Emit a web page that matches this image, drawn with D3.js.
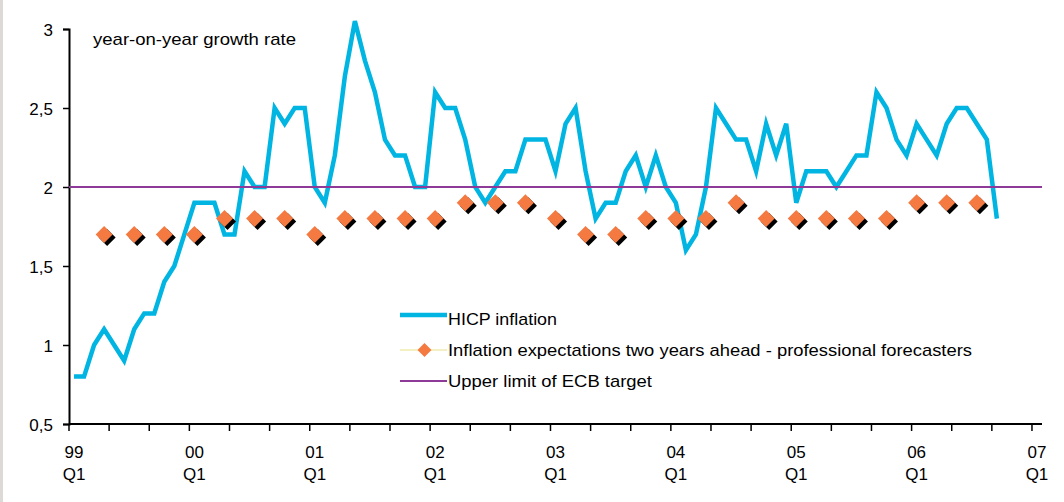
<!DOCTYPE html>
<html>
<head>
<meta charset="utf-8">
<script src="https://cdn.jsdelivr.net/npm/d3@7"></script>
<style>
  html, body { margin: 0; padding: 0; background: #ffffff; }
  svg { display: block; }
  text { font-family: "Liberation Sans", Arial, sans-serif; fill: #000; }
</style>
</head>
<body>
<svg id="chart" width="1064" height="502"></svg>
<script>
// ---------- DATA ----------
const startMonth = new Date(1999, 0, 1);
const endMonth = new Date(2007, 1, 1); // axis covers Jan 1999 .. Jan 2007

// HICP inflation, year-on-year %, monthly from Jan 1999
const hicp = [
  0.8, 0.8, 1.0, 1.1, 1.0, 0.9, 1.1, 1.2, 1.2, 1.4, 1.5, 1.7,   // 1999
  1.9, 1.9, 1.9, 1.7, 1.7, 2.1, 2.0, 2.0, 2.5, 2.4, 2.5, 2.5,   // 2000
  2.0, 1.9, 2.2, 2.7, 3.05, 2.8, 2.6, 2.3, 2.2, 2.2, 2.0, 2.0,  // 2001
  2.6, 2.5, 2.5, 2.3, 2.0, 1.9, 2.0, 2.1, 2.1, 2.3, 2.3, 2.3,   // 2002
  2.1, 2.4, 2.5, 2.1, 1.8, 1.9, 1.9, 2.1, 2.2, 2.0, 2.2, 2.0,   // 2003
  1.9, 1.6, 1.7, 2.0, 2.5, 2.4, 2.3, 2.3, 2.1, 2.4, 2.2, 2.4,   // 2004
  1.9, 2.1, 2.1, 2.1, 2.0, 2.1, 2.2, 2.2, 2.6, 2.5, 2.3, 2.2,   // 2005
  2.4, 2.3, 2.2, 2.4, 2.5, 2.5, 2.4, 2.3, 1.8                   // 2006
];

// Survey of professional forecasters: inflation expectations two years ahead
const spfQuarters = [
  "1999Q2","1999Q3","1999Q4",
  "2000Q1","2000Q2","2000Q3","2000Q4",
  "2001Q1","2001Q2","2001Q3","2001Q4",
  "2002Q1","2002Q2","2002Q3","2002Q4",
  "2003Q1","2003Q2","2003Q3","2003Q4",
  "2004Q1","2004Q2","2004Q3","2004Q4",
  "2005Q1","2005Q2","2005Q3","2005Q4",
  "2006Q1","2006Q2","2006Q3"
];
const spfValues = [
  1.7, 1.7, 1.7,
  1.7, 1.8, 1.8, 1.8,
  1.7, 1.8, 1.8, 1.8,
  1.8, 1.9, 1.9, 1.9,
  1.8, 1.7, 1.7, 1.8,
  1.8, 1.8, 1.9, 1.8,
  1.8, 1.8, 1.8, 1.8,
  1.9, 1.9, 1.9
];

const ecbUpperLimit = 2.0;

const yTicks = [0.5, 1, 1.5, 2, 2.5, 3];
const xYearLabels = ["99", "00", "01", "02", "03", "04", "05", "06", "07"];
const xQuarterLabel = "Q1";

const titleText = "year-on-year growth rate";
const legendLabels = [
  "HICP inflation",
  "Inflation expectations two years ahead - professional forecasters",
  "Upper limit of ECB target"
];

// ---------- STYLE ----------
const colHicp = "#00b5e2";
const colSpf = "#f47a42";
const colEcb = "#8e3a98";
const colLegendSpfLine = "#e8e48a";

// ---------- SCALES ----------
const svg = d3.select("#chart");
const fmtKey = d3.timeFormat("%Y-%m");
const months = d3.timeMonth.range(startMonth, endMonth);
const monthKeys = months.map(fmtKey);

const x = d3.scaleBand().domain(monthKeys).range([69, 1042]).padding(0);
const xMid = k => x(k) + x.bandwidth() / 2;
const y = d3.scaleLinear().domain([0.5, 3]).range([424, 29]);

// left grey frame strip
svg.append("rect").attr("x", 0).attr("y", 0).attr("width", 3).attr("height", 502).attr("fill", "#dcd9d6");

// ---------- AXES ----------
const yAxis = d3.axisLeft(y)
  .tickValues(yTicks)
  .tickSize(6)
  .tickPadding(10)
  .tickFormat(d => String(d).replace(".", ","));
const gy = svg.append("g").attr("transform", "translate(69,0)").call(yAxis);
gy.select(".domain").attr("stroke", "#000").attr("stroke-width", 2);
gy.selectAll(".tick line").attr("stroke", "#000").attr("stroke-width", 1.5);
gy.selectAll(".tick text")
  .attr("font-size", 17)
  .attr("font-family", "Liberation Sans, Arial, sans-serif")
  .attr("fill", "#000")
  .attr("dy", "0.36em");

const gx = svg.append("g");
gx.append("line")
  .attr("x1", x.range()[0]).attr("x2", x.range()[1])
  .attr("y1", y(0.5)).attr("y2", y(0.5))
  .attr("stroke", "#000").attr("stroke-width", 2);
const tickKeys = monthKeys.filter((k, i) => i % 4 === 0);
gx.selectAll("line.xtick").data(tickKeys).join("line")
  .attr("class", "xtick")
  .attr("x1", d => x(d)).attr("x2", d => x(d))
  .attr("y1", y(0.5)).attr("y2", y(0.5) + 7)
  .attr("stroke", "#000").attr("stroke-width", 1.5);

const yearKeys = xYearLabels.map((lab, i) => fmtKey(new Date(1999 + i, 0, 1)));
const xl = gx.selectAll("g.xlab").data(xYearLabels).join("g")
  .attr("class", "xlab")
  .attr("transform", (d, i) => `translate(${xMid(yearKeys[i])},0)`);
xl.append("text").attr("text-anchor", "middle").attr("y", 458).attr("font-size", 17).text(d => d);
xl.append("text").attr("text-anchor", "middle").attr("y", 480).attr("font-size", 17).text(xQuarterLabel);

// ---------- SERIES ----------
const hicpPts = hicp.map((v, i) => ({ k: monthKeys[i], v }));
svg.append("path")
  .datum(hicpPts)
  .attr("fill", "none")
  .attr("stroke", colHicp)
  .attr("stroke-width", 4.5)
  .attr("stroke-linejoin", "miter")
  .attr("d", d3.line().x(d => xMid(d.k)).y(d => y(d.v)));

const qKey = q => fmtKey(new Date(+q.slice(0, 4), (+q.slice(5) - 1) * 3, 1));
const spfPts = spfQuarters.map((q, i) => ({ k: qKey(q), v: spfValues[i] }));
const dia = r => `M0,${-r}L${r},0L0,${r}L${-r},0Z`;
const gs = svg.append("g");
gs.selectAll("path.shadow").data(spfPts).join("path")
  .attr("class", "shadow")
  .attr("d", dia(8.5))
  .attr("fill", "#000")
  .attr("transform", d => `translate(${xMid(d.k) + 3},${y(d.v) + 3})`);
gs.selectAll("path.dia").data(spfPts).join("path")
  .attr("class", "dia")
  .attr("d", dia(8.5))
  .attr("fill", colSpf)
  .attr("transform", d => `translate(${xMid(d.k)},${y(d.v)})`);

svg.append("line")
  .attr("x1", x.range()[0]).attr("x2", x.range()[1])
  .attr("y1", y(ecbUpperLimit)).attr("y2", y(ecbUpperLimit))
  .attr("stroke", colEcb).attr("stroke-width", 2);

// ---------- TITLE ----------
svg.append("text")
  .attr("x", 93).attr("y", 45)
  .attr("font-size", 17)
  .attr("textLength", 203).attr("lengthAdjust", "spacingAndGlyphs")
  .text(titleText);

// ---------- LEGEND ----------
const legX1 = 400, legX2 = 447, legTextX = 448;
const legRows = [315, 350, 381];
const legBase = [325, 356, 387];
const legWidths = [109, 524, 204];
const lg = svg.append("g");
lg.append("line").attr("x1", legX1).attr("x2", legX2).attr("y1", legRows[0]).attr("y2", legRows[0])
  .attr("stroke", colHicp).attr("stroke-width", 4.5);
lg.append("line").attr("x1", legX1).attr("x2", legX2).attr("y1", legRows[1]).attr("y2", legRows[1])
  .attr("stroke", colLegendSpfLine).attr("stroke-width", 1.2);
lg.append("path").attr("d", dia(7)).attr("fill", colSpf)
  .attr("transform", `translate(${(legX1 + legX2) / 2 + 1},${legRows[1]})`);
lg.append("line").attr("x1", legX1).attr("x2", legX2).attr("y1", legRows[2]).attr("y2", legRows[2])
  .attr("stroke", colEcb).attr("stroke-width", 2);
lg.selectAll("text").data(legendLabels).join("text")
  .attr("x", legTextX)
  .attr("y", (d, i) => legBase[i])
  .attr("font-size", 17)
  .attr("textLength", (d, i) => legWidths[i])
  .attr("lengthAdjust", "spacingAndGlyphs")
  .text(d => d);
</script>
</body>
</html>
